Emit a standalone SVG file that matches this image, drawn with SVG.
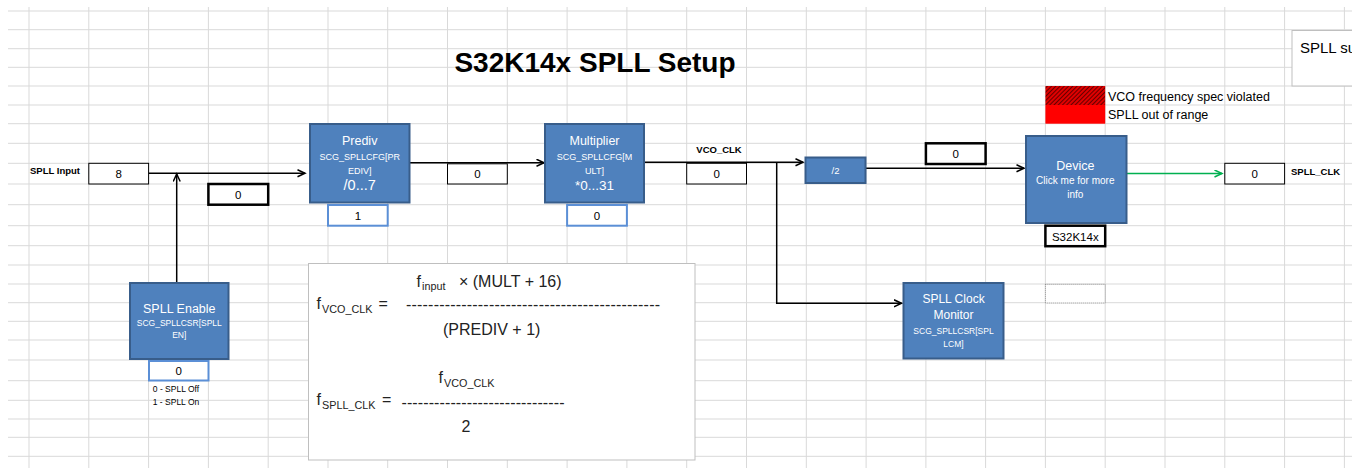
<svg xmlns="http://www.w3.org/2000/svg" width="1366" height="468" viewBox="0 0 1366 468">
<style>
.grid{stroke:#d9d9d9;stroke-width:1;fill:none}
.blk{fill:#4f81bd;stroke:#385d8a;stroke-width:2}
.t{font-family:"Liberation Sans",Arial,sans-serif}
.wt{fill:#ffffff;text-anchor:middle}
.val{fill:#ffffff;stroke:#000000;stroke-width:1}
.thk{fill:#ffffff;stroke:#000000;stroke-width:2.5}
.bval{fill:#ffffff;stroke:#5b8fd6;stroke-width:2}
.num{font-size:11.5px;fill:#000000;text-anchor:middle}
.lbl{font-size:9.5px;font-weight:bold;fill:#000000}
.conn{fill:none;stroke:#000000;stroke-width:1.5}
.f{font-size:16px;fill:#222222}
.sub{font-size:10.8px;fill:#222222}
</style>
<defs>
<marker id="arr" markerWidth="10" markerHeight="10" refX="8" refY="4" orient="auto" markerUnits="userSpaceOnUse"><path d="M0.5,0.5 L8,4 L0.5,7.5" fill="none" stroke="#000000" stroke-width="1.5"/></marker>
<marker id="garr" markerWidth="10" markerHeight="10" refX="8" refY="4" orient="auto" markerUnits="userSpaceOnUse"><path d="M0.5,0.5 L8,4 L0.5,7.5" fill="none" stroke="#00b050" stroke-width="1.5"/></marker>
<pattern id="hatch" width="3" height="3" patternUnits="userSpaceOnUse" patternTransform="rotate(45)">
<rect width="3" height="3" fill="#e00000"/>
<line x1="0" y1="0" x2="0" y2="3" stroke="#300000" stroke-width="1.4"/>
</pattern>
</defs>
<rect width="1366" height="468" fill="#ffffff"/>
<g id="grid" class="grid">
<path d="M29,7V468M88.8,7V468M148.6,7V468M208.4,7V468M268.2,7V468M328,7V468M387.7,7V468M447.5,7V468M507.3,7V468M567.1,7V468M626.9,7V468M686.7,7V468M746.5,7V468M806.3,7V468M866.1,7V468M925.9,7V468M985.6,7V468M1045.4,7V468M1105.2,7V468M1165,7V468M1224.8,7V468M1284.6,7V468M1344.4,7V468"/>
<path d="M8,11H1352M8,29.7H1352M8,48.7H1352M8,67.3H1352M8,86H1352M8,105H1352M8,123.7H1352M8,143.3H1352M8,163.3H1352M8,184H1352M8,204.7H1352M8,225.7H1352M8,245.7H1352M8,265H1352M8,284H1352M8,302.7H1352M8,321.3H1352M8,340H1352M8,360H1352M8,380.7H1352M8,400.3H1352M8,419H1352M8,437.3H1352M8,456.3H1352"/>
</g>
<text class="t" x="595" y="72" font-size="28" font-weight="bold" text-anchor="middle" fill="#000000">S32K14x SPLL Setup</text>
<g id="summary">
<rect x="1292" y="30.5" width="80" height="55.5" fill="#ffffff" stroke="#bfbfbf" stroke-width="1"/>
<text class="t" x="1300" y="53" font-size="15" fill="#000000">SPLL su</text>
</g>
<g id="legend">
<rect x="1045.4" y="86" width="59.8" height="19" fill="url(#hatch)"/>
<rect x="1045.4" y="105" width="59.8" height="18.7" fill="#ff0000"/>
<text class="t" x="1108" y="100.5" font-size="12.5" fill="#000000">VCO frequency spec violated</text>
<text class="t" x="1108" y="119" font-size="12.5" fill="#000000">SPLL out of range</text>
</g>
<g id="connectors">
<path class="conn" d="M148.6,173.3H305" marker-end="url(#arr)"/>
<path class="conn" d="M176.7,282.5V174" marker-end="url(#arr)"/>
<path class="conn" d="M410,162.7H544" marker-end="url(#arr)"/>
<path class="conn" d="M644.5,162.3H803" marker-end="url(#arr)"/>
<path class="conn" d="M776.7,162.3V303.3H901.5" marker-end="url(#arr)"/>
<path class="conn" d="M866,168.3H1024" marker-end="url(#arr)"/>
<path fill="none" stroke="#00b050" stroke-width="1.5" d="M1127,173.5H1222" marker-end="url(#garr)"/>
</g>
<g id="spll-input">
<text class="t lbl" x="30" y="174" font-size="10">SPLL Input</text>
<rect class="val" x="88.8" y="163.3" width="59.8" height="20.7"/>
<text class="t num" x="118.7" y="178">8</text>
</g>
<g id="enable-value-top">
<rect class="thk" x="208.4" y="184" width="59.8" height="20.7"/>
<text class="t num" x="238.3" y="198.5">0</text>
</g>
<g id="prediv">
<rect class="blk" x="310" y="124" width="99.5" height="78.5"/>
<text class="t wt" x="359.7" y="145" font-size="12.5">Prediv</text>
<text class="t wt" x="359.7" y="159.5" font-size="9">SCG_SPLLCFG[PR</text>
<text class="t wt" x="359.7" y="173.5" font-size="9">EDIV]</text>
<text class="t wt" x="359.7" y="190" font-size="14.5">/0...7</text>
<rect class="bval" x="328" y="205" width="59.7" height="20.7"/>
<text class="t num" x="357.9" y="219.7">1</text>
</g>
<g id="prediv-out">
<rect class="val" x="447.5" y="163.8" width="59.8" height="20.2"/>
<text class="t num" x="477.4" y="178.3">0</text>
</g>
<g id="multiplier">
<rect class="blk" x="545" y="124" width="99" height="78.5"/>
<text class="t wt" x="594.5" y="145" font-size="12.5">Multiplier</text>
<text class="t wt" x="594.5" y="159.5" font-size="9">SCG_SPLLCFG[M</text>
<text class="t wt" x="594.5" y="173.5" font-size="9">ULT]</text>
<text class="t wt" x="594.5" y="190" font-size="13.5">*0...31</text>
<rect class="bval" x="567.1" y="205" width="59.8" height="20.7"/>
<text class="t num" x="597" y="219.7">0</text>
</g>
<g id="vco-clk">
<text class="t lbl" x="719" y="153.3" text-anchor="middle">VCO_CLK</text>
<rect class="val" x="686.7" y="163.3" width="59.8" height="20.7"/>
<text class="t num" x="716.6" y="178">0</text>
</g>
<g id="div2">
<rect class="blk" x="805.5" y="157.5" width="60" height="25.5" stroke-width="1.5"/>
<text class="t wt" x="835.5" y="173.5" font-size="9.5">/2</text>
</g>
<g id="div2-out">
<rect class="thk" x="925.9" y="143.3" width="59.7" height="20.7"/>
<text class="t num" x="955.8" y="158">0</text>
</g>
<g id="device">
<rect class="blk" x="1026" y="136" width="100.5" height="87"/>
<text class="t wt" x="1075.3" y="170" font-size="12.5">Device</text>
<text class="t wt" x="1075.3" y="184" font-size="10">Click me for more</text>
<text class="t wt" x="1075.3" y="197.5" font-size="10">info</text>
<rect class="thk" x="1045.4" y="225.7" width="59.8" height="20.5"/>
<text class="t num" x="1075.3" y="240.5">S32K14x</text>
</g>
<g id="spll-clk">
<rect class="val" x="1224.8" y="163.3" width="59.8" height="20.7"/>
<text class="t num" x="1254.7" y="178">0</text>
<text class="t lbl" x="1291" y="175" font-size="9">SPLL_CLK</text>
</g>
<g id="dotted">
<rect x="1045.4" y="284.3" width="59.8" height="18.7" fill="#ffffff" stroke="#7f7f7f" stroke-width="1" stroke-dasharray="1,1"/>
</g>
<g id="spll-enable">
<rect class="blk" x="130" y="283" width="98.5" height="76"/>
<text class="t wt" x="179.3" y="312.7" font-size="12.5">SPLL Enable</text>
<text class="t wt" x="179.3" y="326" font-size="8.5">SCG_SPLLCSR[SPLL</text>
<text class="t wt" x="179.3" y="337.5" font-size="8.5">EN]</text>
<rect class="bval" x="149" y="361" width="59.5" height="19.5"/>
<text class="t num" x="178.7" y="375">0</text>
<text class="t" x="176" y="392" font-size="8.5" text-anchor="middle" fill="#000000">0 - SPLL Off</text>
<text class="t" x="176" y="405" font-size="8.5" text-anchor="middle" fill="#000000">1 - SPLL On</text>
</g>
<g id="clock-monitor">
<rect class="blk" x="903.5" y="283" width="100" height="75.5"/>
<text class="t wt" x="953.5" y="302.7" font-size="12">SPLL Clock</text>
<text class="t wt" x="953.5" y="319.3" font-size="12">Monitor</text>
<text class="t wt" x="953.5" y="334" font-size="8.5">SCG_SPLLCSR[SPL</text>
<text class="t wt" x="953.5" y="347.3" font-size="8.5">LCM]</text>
</g>
<g id="formula">
<rect x="308.5" y="263.5" width="386.5" height="196.5" fill="#ffffff" stroke="#bfbfbf" stroke-width="1"/>
<text class="t f" x="416.5" y="286.5">f</text>
<text class="t sub" x="422" y="290">input</text>
<text class="t f" x="459" y="286.5">× (MULT + 16)</text>
<text class="t f" x="316.5" y="309">f</text>
<text class="t sub" x="322" y="313">VCO_CLK</text>
<text class="t f" x="378.5" y="309">=</text>
<text class="t f" x="406" y="309.5" textLength="254" lengthAdjust="spacing">----------------------------------------------</text>
<text class="t f" x="443" y="335">(PREDIV + 1)</text>
<text class="t f" x="438.5" y="383">f</text>
<text class="t sub" x="444" y="387">VCO_CLK</text>
<text class="t f" x="316.5" y="404.5">f</text>
<text class="t sub" x="322" y="408.5">SPLL_CLK</text>
<text class="t f" x="382" y="404.5">=</text>
<text class="t f" x="401.5" y="407.5" textLength="163" lengthAdjust="spacing">------------------------------</text>
<text class="t f" x="461.5" y="431.5">2</text>
</g>
<rect x="1352" y="0" width="14" height="468" fill="#ffffff"/>
</svg>
